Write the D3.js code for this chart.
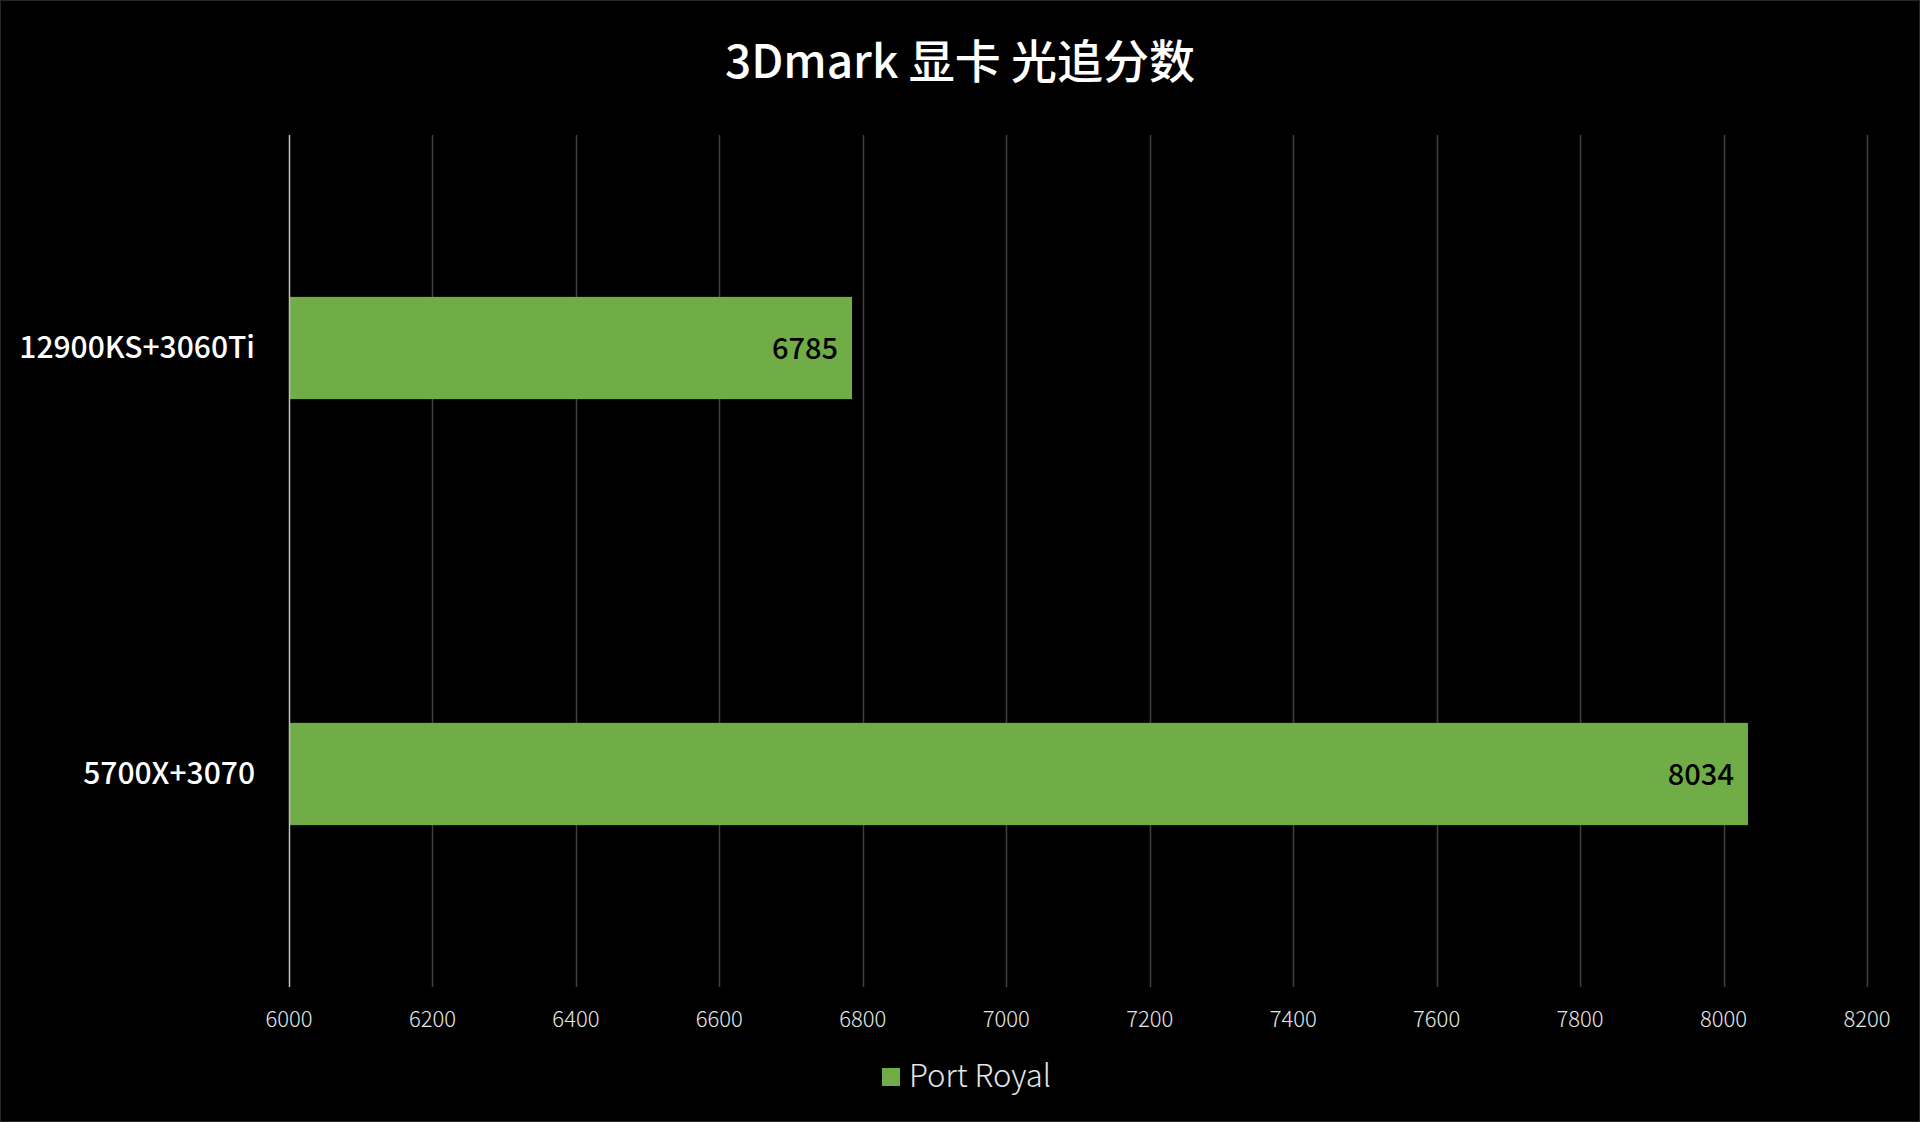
<!DOCTYPE html>
<html>
<head>
<meta charset="utf-8">
<script src="https://cdn.jsdelivr.net/npm/d3@7"></script>
<style>
  html, body { margin: 0; padding: 0; background: #000; }
  svg { display: block; font-family: "Noto Sans CJK SC", "Noto Sans", sans-serif; }
</style>
</head>
<body>
<svg id="chart" width="1920" height="1122"></svg>
<script>
// chart data
let title = "3Dmark 显卡 光追分数";
let categories = ["12900KS+3060Ti", "5700X+3070"];
let seriesName = "Port Royal";
let portRoyal = [6785, 8034];
let xTicks = [6000, 6200, 6400, 6600, 6800, 7000, 7200, 7400, 7600, 7800, 8000, 8200];

let width = 1920, height = 1122;
let margin = {top: 135, right: 53, bottom: 135, left: 289};
let barColor = "#70ad47";

let svg = d3.select("#chart");

svg.append("rect")
    .attr("x", 0.5).attr("y", 0.5)
    .attr("width", width - 1).attr("height", height - 1)
    .style("fill", "#000")
    .style("stroke", "#262626");

let x = d3.scaleLinear()
    .domain([xTicks[0], xTicks[xTicks.length - 1]])
    .range([margin.left, width - margin.right]);

let y = d3.scaleBand()
    .domain(categories)
    .range([margin.top, height - margin.bottom])
    .paddingInner(0.76)
    .paddingOuter(0.38);

// gridlines
svg.append("g")
    .selectAll("line")
    .data(xTicks.slice(1))
    .enter()
    .append("line")
    .attr("x1", function (d) { return Math.round(x(d)) + 0.5; })
    .attr("x2", function (d) { return Math.round(x(d)) + 0.5; })
    .attr("y1", margin.top)
    .attr("y2", height - margin.bottom)
    .style("stroke", "#404040")
    .style("stroke-width", 1.5);

// bars
svg.append("g")
    .selectAll("rect")
    .data(portRoyal)
    .enter()
    .append("rect")
    .attr("x", x(xTicks[0]))
    .attr("y", function (d, i) { return y(categories[i]); })
    .attr("width", function (d) { return x(d) - x(xTicks[0]); })
    .attr("height", y.bandwidth())
    .style("fill", barColor);

// value axis line at the left
svg.append("line")
    .attr("x1", Math.round(x(xTicks[0])) + 0.5)
    .attr("x2", Math.round(x(xTicks[0])) + 0.5)
    .attr("y1", margin.top)
    .attr("y2", height - margin.bottom)
    .style("stroke", "#bfbfbf")
    .style("stroke-width", 1.5);

// value labels
svg.append("g")
    .selectAll("text")
    .data(portRoyal)
    .enter()
    .append("text")
    .attr("x", function (d) { return x(d) - 14; })
    .attr("y", function (d, i) { return y(categories[i]) + y.bandwidth() / 2 + 11; })
    .attr("text-anchor", "end")
    .style("font-size", "29px")
    .style("font-weight", 500)
    .style("fill", "#000")
    .text(function (d) { return d; });

// category labels
svg.append("g")
    .selectAll("text")
    .data(categories)
    .enter()
    .append("text")
    .attr("x", margin.left - 34)
    .attr("y", function (d) { return y(d) + y.bandwidth() / 2 + 10; })
    .attr("text-anchor", "end")
    .style("font-size", "30px")
    .style("font-weight", 500)
    .style("fill", "#fff")
    .text(function (d) { return d; });

// tick labels
svg.append("g")
    .selectAll("text")
    .data(xTicks)
    .enter()
    .append("text")
    .attr("x", function (d) { return x(d); })
    .attr("y", height - margin.bottom + 40)
    .attr("text-anchor", "middle")
    .style("font-size", "22px")
    .style("font-weight", 300)
    .style("fill", "#e6e6e6")
    .text(function (d) { return d; });

// title
svg.append("text")
    .attr("x", width / 2)
    .attr("y", 78)
    .attr("text-anchor", "middle")
    .style("font-size", "46px")
    .style("font-weight", 500)
    .style("fill", "#fff")
    .text(title);

// legend
let legend = svg.append("g");
legend.append("rect")
    .attr("x", 882).attr("y", 1068)
    .attr("width", 18).attr("height", 18)
    .style("fill", barColor);
legend.append("text")
    .attr("x", 909)
    .attr("y", 1087)
    .style("font-size", "31px")
    .style("font-weight", 300)
    .style("fill", "#e6e6e6")
    .text(seriesName);
</script>
</body>
</html>
